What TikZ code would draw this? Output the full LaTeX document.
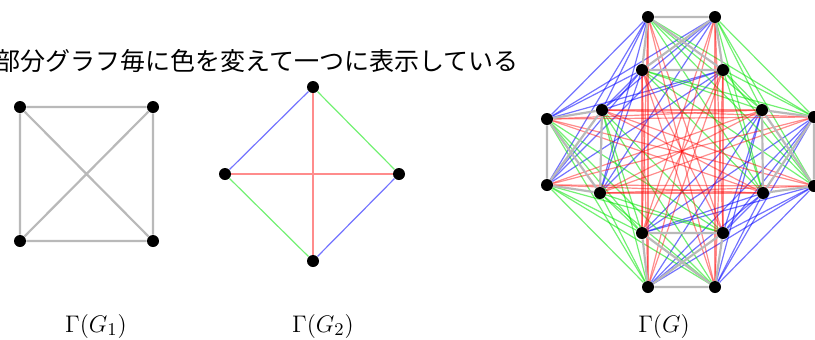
\documentclass[tikz,border=0pt]{standalone}
\usepackage{fontspec}
\newfontfamily\jafont{Noto Sans CJK JP}
\usetikzlibrary{backgrounds}
\tikzset{
  sommet/.style={circle,fill=black,inner sep=0pt,minimum size=6pt},
  arete/.style={gray!55,line width=1.1pt},
  rouge/.style={red,line width=0.6pt,draw opacity=0.45},
  bleu/.style={blue,line width=0.6pt,draw opacity=0.55},
  vert/.style={green!90!black,line width=0.6pt,draw opacity=0.55},
  titre/.style={font=\fontsize{13}{15}\selectfont}
}

\begin{document}
\begin{tikzpicture}[x=0.5pt,y=-0.5pt]
        \useasboundingbox (0,0) rectangle (815,339);

        % texte du haut
        \node[anchor=east,inner sep=0pt] (texte) at (519,61)
          {\jafont\fontsize{12.5}{14}\selectfont 部分グラフ毎に色を変えて一つに表示している};

        % Gamma(G_1)
        \node[sommet] (a1) at (20,107) {};
        \node[sommet] (a2) at (153,107) {};
        \node[sommet] (a3) at (20,241) {};
        \node[sommet] (a4) at (153,241) {};
        \begin{pgfonlayer}{background}
          \draw[arete] (a1) -- (a2) -- (a4) -- (a3) -- (a1) -- (a4) (a2) -- (a3);
        \end{pgfonlayer}
        \node[titre] (g1) at (96,326) {$\Gamma(G_1)$};

        % Gamma(G_2)
        \node[sommet] (h) at (313,87) {};
        \node[sommet] (g) at (225,174) {};
        \node[sommet] (d) at (399,174) {};
        \node[sommet] (b) at (313,261) {};
        \begin{pgfonlayer}{background}
          \draw[bleu] (h) -- (g) (d) -- (b);
          \draw[vert] (h) -- (d) (g) -- (b);
          \draw[rouge] (h) -- (b) (g) -- (d);
        \end{pgfonlayer}
        \node[titre] (g2) at (323,326) {$\Gamma(G_2)$};

        % Gamma(G) : une copie de G_1 par sommet de G_2
        \node[sommet] (T1) at (648,17) {};
        \node[sommet] (T2) at (715,17) {};
        \node[sommet] (T3) at (642,70) {};
        \node[sommet] (T4) at (723,70) {};
        \node[sommet] (L1) at (547,119) {};
        \node[sommet] (L2) at (602,110) {};
        \node[sommet] (L3) at (547,185) {};
        \node[sommet] (L4) at (600,193) {};
        \node[sommet] (R1) at (762,110) {};
        \node[sommet] (R2) at (814,117) {};
        \node[sommet] (R3) at (763,193) {};
        \node[sommet] (R4) at (814,186) {};
        \node[sommet] (B1) at (642,233) {};
        \node[sommet] (B2) at (723,233) {};
        \node[sommet] (B3) at (648,287) {};
        \node[sommet] (B4) at (715,287) {};
        \begin{pgfonlayer}{background}
          % aretes entre les copies, couleur de l'arete de G_2
          \foreach \u/\v/\c in {T/L/bleu, R/B/bleu, T/R/vert, L/B/vert, T/B/rouge, L/R/rouge}
            \foreach \i in {1,...,4}
              \foreach \j in {1,...,4}
                \draw[\c] (\u\i) -- (\v\j);
          % aretes de chaque copie de G_1
          \foreach \u in {T,L,R,B}
            \draw[arete] (\u1) -- (\u2) (\u1) -- (\u3) (\u1) -- (\u4)
                         (\u2) -- (\u3) (\u2) -- (\u4) (\u3) -- (\u4);
        \end{pgfonlayer}
        \node[titre] (g3) at (664,326) {$\Gamma(G)$};
\end{tikzpicture}
\end{document}
